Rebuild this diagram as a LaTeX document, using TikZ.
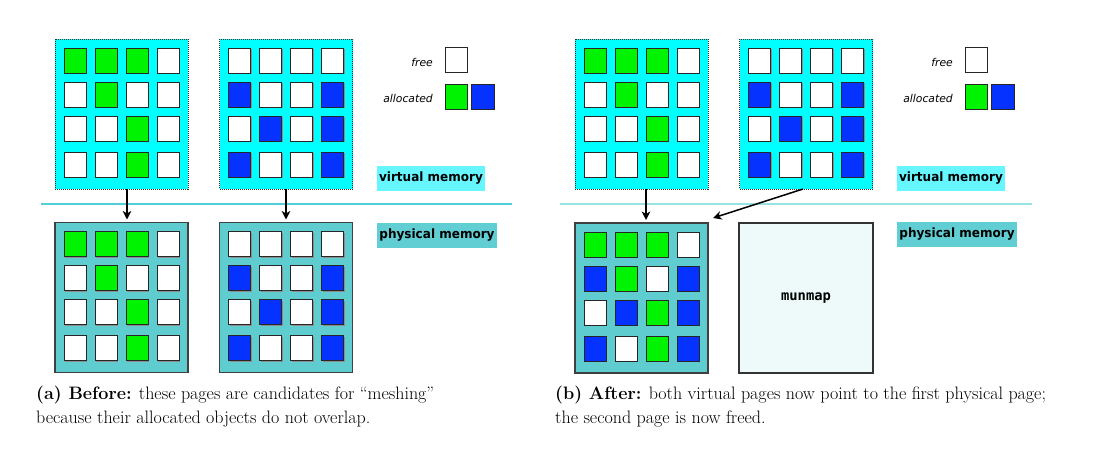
\documentclass[tikz,border=0pt]{standalone}
\usepackage{fontspec}
\newfontfamily\lblfont{DejaVu Sans}
\newfontfamily\monofont{DejaVu Sans Mono}
\usetikzlibrary{arrows.meta}
\definecolor{vcyan}{RGB}{0,255,255}
\definecolor{pteal}{RGB}{95,205,208}
\definecolor{cG}{RGB}{0,243,0}
\definecolor{cB}{RGB}{5,50,255}
\definecolor{cW}{RGB}{255,255,255}
\definecolor{vlab}{RGB}{102,246,255}
\definecolor{plab}{RGB}{96,206,210}
\definecolor{freed}{RGB}{238,250,250}
\definecolor{lineL}{RGB}{80,208,216}
\definecolor{lineR}{RGB}{152,226,228}
\definecolor{shadowc}{RGB}{140,140,140}
\newcommand\lbl[1]{\scalebox{0.94}[1]{#1}}
\tikzset{
  vpage/.style={draw=black!80, densely dotted, line width=1pt, fill=vcyan,
    minimum width=133pt, minimum height=150pt, inner sep=0pt, outer sep=0pt},
  ppage/.style={draw=black!75, line width=1.2pt, fill=pteal,
    minimum width=133pt, minimum height=150pt, inner sep=0pt, outer sep=0pt},
  fpage/.style={draw=black!80, line width=1.1pt, fill=freed,
    minimum width=134pt, minimum height=150pt, inner sep=0pt, outer sep=0pt,
    font=\monofont\fontsize{13.8}{15}\selectfont\bfseries},
  sqbox/.style={draw=black!85, line width=0.7pt, fill=#1, anchor=north west,
    minimum width=22pt, minimum height=25pt, inner sep=0pt, outer sep=0pt},
  memlab/.style={fill=#1, inner sep=0pt, minimum height=25pt,
    font=\lblfont\fontsize{12.8}{14}\selectfont\bfseries},
  legtext/.style={anchor=east, inner sep=0pt, font=\lblfont\fontsize{10.8}{12}\selectfont\itshape},
  sepline/.style={line width=1.3pt},
  arr/.style={line width=1.5pt, -{Stealth[length=8.5pt,width=8.5pt,inset=2.5pt]}},
  caption/.style={anchor=north west, align=left, inner sep=0pt,
    font=\fontsize{18.0}{24}\selectfont}
}
\newcommand\drawgrid[2]{%
  \foreach \c [count=\i from 0] in {#2} {%
    \pgfmathtruncatemacro\rr{int(\i/4)}%
    \pgfmathtruncatemacro\cc{\i-4*\rr}%
    \pgfmathsetmacro\xo{9+31*\cc}%
    \pgfmathsetmacro\yo{{9,43,77,113}[\rr]}%
    \fill[shadowc] ([shift={(\xo+1.3,\yo+1.3)}]#1.north west) rectangle ++(22,25);
    \node[sqbox=c\c] (#1-\i) at ([shift={(\xo,\yo)}]#1.north west) {};
  }%
}
\begin{document}
\begin{tikzpicture}[x=1pt,y=-1pt]
\useasboundingbox (0,0) rectangle (1099,450);

% ---------- (a) before ----------
\node[vpage] (lva) at (121.5,114) {};
\node[vpage] (lvb) at (286,114) {};
\node[ppage] (lpa) at (121.5,297.5) {};
\node[ppage] (lpb) at (286,297.5) {};
\drawgrid{lva}{G,G,G,W, W,G,W,W, W,W,G,W, W,W,G,W}
\drawgrid{lvb}{W,W,W,W, B,W,W,B, W,B,W,B, B,W,W,B}
\drawgrid{lpa}{G,G,G,W, W,G,W,W, W,W,G,W, W,W,G,W}
\drawgrid{lpb}{W,W,W,W, B,W,W,B, W,B,W,B, B,W,W,B}

\coordinate (lsepA) at (41,204);
\coordinate (lsepB) at (512,204);
\draw[sepline, lineL] (lsepA) -- (lsepB);

\draw[arr] ([xshift=5.5pt]lva.south) -- ([shift={(5.5,-3)}]lpa.north);
\draw[arr] (lvb.south) -- ([shift={(0,-3)}]lpb.north);

% legend (a)
\node[legtext] (lfree) at (433,62) {free};
\node[legtext] (lalloc) at (433,98) {allocated};
\fill[shadowc] (446.3,48.3) rectangle ++(22,25);
\node[sqbox=cW] (lfsq) at (445,47) {};
\node[sqbox=cG] (lgsq) at (445,84) {};
\node[sqbox=cB, minimum width=23pt] (lbsq) at (471,84) {};

\node[memlab=vlab, minimum width=108pt] (lvm) at (431,178.5) {\lbl{virtual memory}};
\node[memlab=plab, minimum width=120pt] (lpm) at (437,235) {\lbl{physical memory}};

\node[caption] (capa) at (36,385.5) {\textbf{(a) Before:} these pages are candidates for ``meshing''\\because their allocated objects do not overlap.};

% ---------- (b) after ----------
\node[vpage] (rva) at (641.5,114) {};
\node[vpage] (rvb) at (806,114) {};
\node[ppage] (rpa) at (641.5,298) {};
\node[fpage] (rpb) at (806,298) {munmap};
\drawgrid{rva}{G,G,G,W, W,G,W,W, W,W,G,W, W,W,G,W}
\drawgrid{rvb}{W,W,W,W, B,W,W,B, W,B,W,B, B,W,W,B}
\drawgrid{rpa}{G,G,G,W, B,G,W,B, W,B,G,B, B,W,G,B}

\coordinate (rsepA) at (560,204);
\coordinate (rsepB) at (1032,204);
\draw[sepline, lineR] (rsepA) -- (rsepB);

\draw[arr] ([xshift=4.5pt]rva.south) -- ([shift={(4.5,-3)}]rpa.north);
\draw[arr] ([xshift=-3pt]rvb.south) -- ([shift={(5,-5)}]rpa.north east);

% legend (b)
\node[legtext] (rfree) at (953,62) {free};
\node[legtext] (ralloc) at (953,98) {allocated};
\fill[shadowc] (966.3,48.3) rectangle ++(22,25);
\node[sqbox=cW] (rfsq) at (965,47) {};
\node[sqbox=cG] (rgsq) at (965,84) {};
\node[sqbox=cB, minimum width=23pt] (rbsq) at (991,84) {};

\node[memlab=vlab, minimum width=108pt] (rvm) at (951,178) {\lbl{virtual memory}};
\node[memlab=plab, minimum width=120pt] (rpm) at (957,234.5) {\lbl{physical memory}};

\node[caption] (capb) at (555,385.5) {\textbf{(b) After:} both virtual pages now point to the first physical page;\\the second page is now freed.};
\end{tikzpicture}
\end{document}
